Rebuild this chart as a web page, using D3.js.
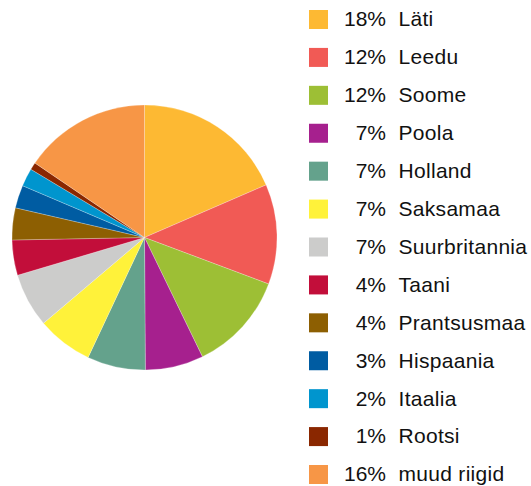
<!DOCTYPE html>
<html lang="et">
<head>
  <meta charset="UTF-8">
  <title>Riigid</title>
  <script src="https://d3js.org/d3.v7.min.js"></script>
  <style>
    body {
      margin: 0;
      background-color: #ffffff;
    }
    svg text {
      font-family: "Liberation Sans", Arial, sans-serif;
      font-size: 21px;
      fill: #111111;
    }
    svg text.name {
      letter-spacing: 0.3px;
    }
  </style>
</head>
<body>
  <div id="chart"></div>

  <script>
    // Data
    const countries = ['Läti', 'Leedu', 'Soome', 'Poola', 'Holland', 'Saksamaa', 'Suurbritannia',
      'Taani', 'Prantsusmaa', 'Hispaania', 'Itaalia', 'Rootsi', 'muud riigid'];
    const shares = [18.5, 12.2, 12.1, 7.1, 7.1, 6.8, 6.6, 4.3, 3.9, 2.8, 2.2, 0.9, 15.5];
    const shareLabels = ['18%', '12%', '12%', '7%', '7%', '7%', '7%', '4%', '4%', '3%', '2%', '1%', '16%'];
    const colors = ['#fdb933', '#f15a55', '#9dbf35', '#a6208e', '#64a28c', '#fff23a', '#cccccb',
      '#c20e3a', '#8d5f02', '#005ca2', '#0095ce', '#8a2700', '#f79646'];

    const width = 531, height = 486;
    const cx = 144.5, cy = 237.5, radius = 132.5;

    const data = countries.map((name, i) => ({
      name: name,
      value: shares[i],
      label: shareLabels[i],
      color: colors[i]
    }));

    const svg = d3.select('#chart')
      .append('svg')
      .attr('width', width)
      .attr('height', height);

    // Pie, clockwise from 12 o'clock, keeping data order
    const pie = d3.pie().value(d => d.value).sort(null);
    const arc = d3.arc().innerRadius(0).outerRadius(radius);

    svg.append('g')
      .attr('transform', `translate(${cx}, ${cy})`)
      .selectAll('path')
      .data(pie(data))
      .enter()
      .append('path')
      .attr('d', arc)
      .attr('fill', d => d.data.color)
      .attr('stroke', '#ffffff')
      .attr('stroke-opacity', 0.4)
      .style('stroke-width', '0.6px');

    // Legend
    const rowY = d3.scaleLinear().domain([0, data.length - 1]).range([10, 465]);

    const rows = svg.append('g')
      .selectAll('g')
      .data(data)
      .enter()
      .append('g')
      .attr('transform', (d, i) => `translate(0, ${rowY(i)})`);

    rows.append('rect')
      .attr('x', 309)
      .attr('y', 0)
      .attr('width', 19)
      .attr('height', 19)
      .attr('fill', d => d.color);

    rows.append('text')
      .attr('x', 386)
      .attr('y', 16.4)
      .attr('text-anchor', 'end')
      .text(d => d.label);

    rows.append('text')
      .attr('class', 'name')
      .attr('x', 398.5)
      .attr('y', 16.4)
      .text(d => d.name);
  </script>
</body>
</html>
